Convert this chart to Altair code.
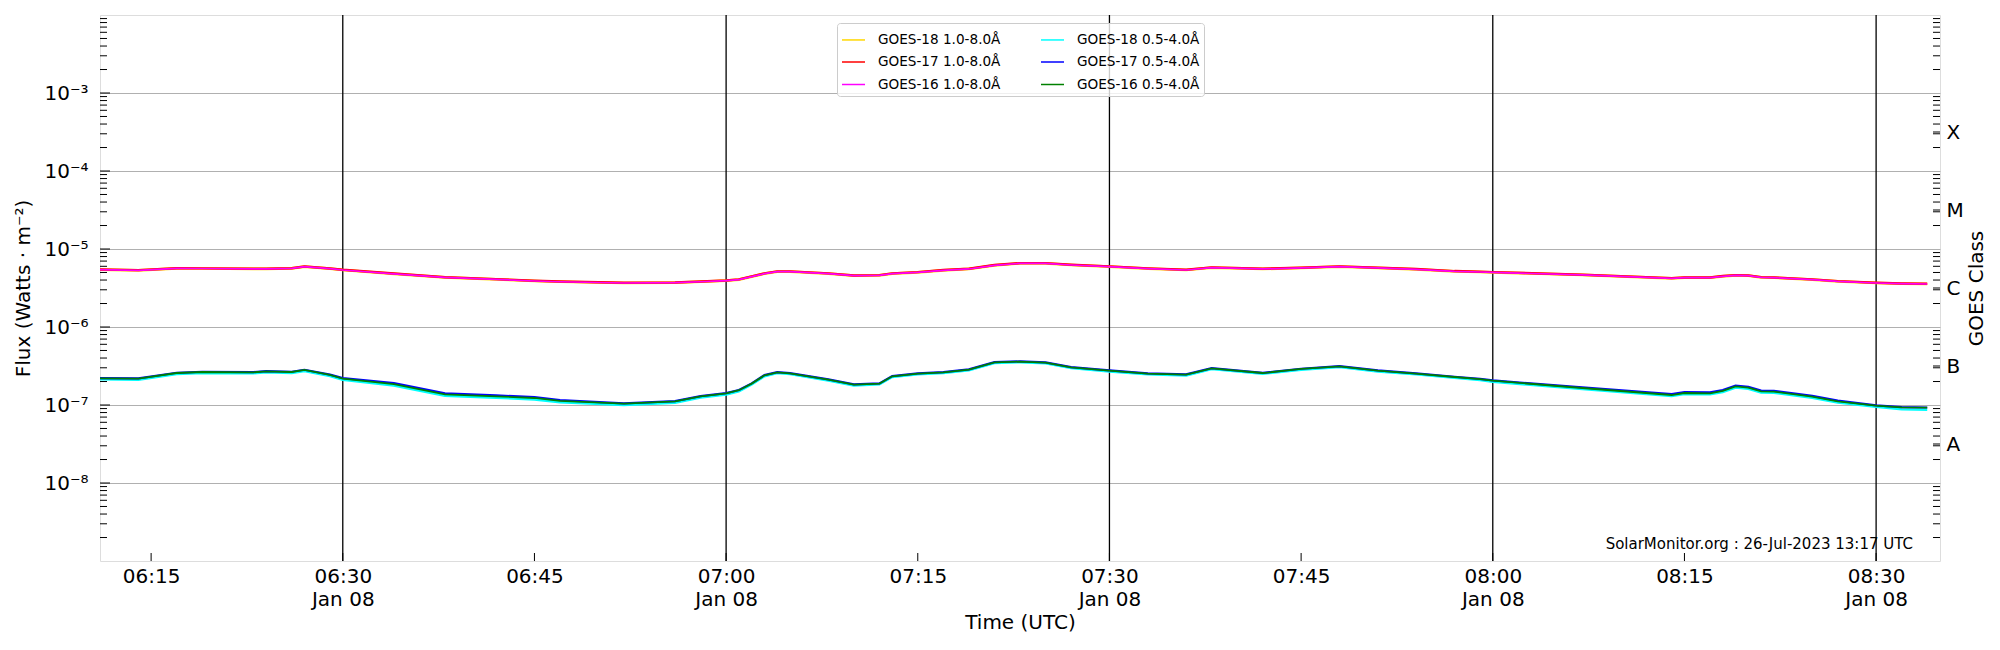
import altair as alt
import pandas as pd

# ---------------- data (minutes after 06:00 UTC, 8 Jan) ----------------
MINUTES = [11, 14, 17, 19, 23, 24, 26, 27, 29, 30, 34, 38, 42, 45, 47, 52, 56, 58, 60, 61,
           62, 63, 64, 65, 68, 70, 72, 73, 75, 77, 79, 81, 83, 85, 87, 90, 93, 96, 98, 102,
           105, 108, 111, 114, 117, 119, 120, 127, 134, 135, 137, 138, 139, 140, 141, 142,
           145, 147, 150, 152, 154]

# log10 flux, 1.0-8.0 A channel (GOES-16/17/18 coincide)
LONG_16 = [-5.265, -5.274, -5.248, -5.250, -5.256, -5.255, -5.248, -5.226, -5.252, -5.269,
           -5.318, -5.365, -5.389, -5.410, -5.420, -5.436, -5.432, -5.420, -5.406, -5.393,
           -5.355, -5.316, -5.290, -5.290, -5.316, -5.342, -5.338, -5.316, -5.299, -5.273,
           -5.256, -5.209, -5.184, -5.184, -5.205, -5.226, -5.252, -5.269, -5.239, -5.256,
           -5.243, -5.226, -5.243, -5.260, -5.286, -5.295, -5.299, -5.333, -5.376, -5.368,
           -5.368, -5.350, -5.338, -5.342, -5.363, -5.368, -5.393, -5.415, -5.436, -5.445,
           -5.449]
LONG_17 = [-5.262, -5.271, -5.246, -5.248, -5.254, -5.253, -5.246, -5.224, -5.250, -5.266,
           -5.315, -5.362, -5.386, -5.407, -5.417, -5.433, -5.429, -5.417, -5.403, -5.390,
           -5.352, -5.313, -5.287, -5.287, -5.313, -5.339, -5.335, -5.313, -5.296, -5.270,
           -5.253, -5.206, -5.181, -5.181, -5.202, -5.223, -5.249, -5.266, -5.236, -5.253,
           -5.240, -5.223, -5.240, -5.257, -5.283, -5.292, -5.296, -5.330, -5.373, -5.365,
           -5.365, -5.347, -5.335, -5.339, -5.360, -5.365, -5.390, -5.412, -5.433, -5.442,
           -5.446]
LONG_18 = [-5.265, -5.274, -5.248, -5.250, -5.256, -5.255, -5.248, -5.226, -5.252, -5.269,
           -5.318, -5.365, -5.389, -5.410, -5.420, -5.436, -5.432, -5.420, -5.406, -5.393,
           -5.355, -5.316, -5.290, -5.290, -5.316, -5.342, -5.338, -5.316, -5.299, -5.273,
           -5.256, -5.209, -5.184, -5.184, -5.205, -5.226, -5.252, -5.269, -5.239, -5.256,
           -5.243, -5.226, -5.243, -5.260, -5.286, -5.295, -5.299, -5.333, -5.376, -5.368,
           -5.368, -5.350, -5.338, -5.342, -5.363, -5.368, -5.393, -5.415, -5.436, -5.445,
           -5.449]

# log10 flux, 0.5-4.0 A channel
SHORT_16 = [-6.658, -6.662, -6.590, -6.577, -6.581, -6.568, -6.577, -6.551, -6.615, -6.662,
            -6.731, -6.863, -6.889, -6.910, -6.947, -6.983, -6.953, -6.889, -6.850, -6.810,
            -6.726, -6.620, -6.581, -6.594, -6.675, -6.739, -6.726, -6.632, -6.598, -6.581,
            -6.547, -6.453, -6.444, -6.457, -6.517, -6.560, -6.598, -6.611, -6.530, -6.590,
            -6.538, -6.504, -6.560, -6.598, -6.641, -6.667, -6.688, -6.782, -6.872, -6.846,
            -6.850, -6.820, -6.761, -6.778, -6.825, -6.829, -6.893, -6.953, -7.009, -7.030,
            -7.034]
SHORT_17 = [-6.655, -6.659, -6.587, -6.574, -6.578, -6.565, -6.574, -6.548, -6.610, -6.655,
            -6.718, -6.850, -6.877, -6.898, -6.937, -6.978, -6.950, -6.886, -6.847, -6.807,
            -6.723, -6.617, -6.578, -6.591, -6.672, -6.736, -6.723, -6.629, -6.595, -6.578,
            -6.544, -6.450, -6.441, -6.454, -6.514, -6.557, -6.595, -6.608, -6.527, -6.587,
            -6.535, -6.501, -6.557, -6.595, -6.638, -6.664, -6.684, -6.775, -6.860, -6.835,
            -6.838, -6.809, -6.750, -6.767, -6.814, -6.818, -6.882, -6.943, -7.004, -7.028,
            -7.032]
SHORT_18 = [-6.672, -6.676, -6.604, -6.590, -6.594, -6.582, -6.590, -6.565, -6.628, -6.676,
            -6.750, -6.882, -6.908, -6.929, -6.966, -7.002, -6.972, -6.906, -6.865, -6.824,
            -6.738, -6.632, -6.592, -6.604, -6.686, -6.750, -6.736, -6.642, -6.608, -6.590,
            -6.556, -6.462, -6.452, -6.466, -6.526, -6.570, -6.608, -6.622, -6.540, -6.600,
            -6.548, -6.514, -6.570, -6.608, -6.652, -6.680, -6.702, -6.797, -6.886, -6.860,
            -6.864, -6.834, -6.776, -6.792, -6.840, -6.844, -6.908, -6.968, -7.024, -7.056,
            -7.060]

# legend order (filled column by column: 1.0-8.0 A column, then 0.5-4.0 A column)
SERIES = ["GOES-18 1.0-8.0Å", "GOES-17 1.0-8.0Å", "GOES-16 1.0-8.0Å",
          "GOES-18 0.5-4.0Å", "GOES-17 0.5-4.0Å", "GOES-16 0.5-4.0Å"]
COLORS = ["gold", "red", "magenta", "cyan", "blue", "green"]
VALUES = {
    "GOES-18 1.0-8.0Å": LONG_18, "GOES-18 0.5-4.0Å": SHORT_18,
    "GOES-17 1.0-8.0Å": LONG_17, "GOES-17 0.5-4.0Å": SHORT_17,
    "GOES-16 1.0-8.0Å": LONG_16, "GOES-16 0.5-4.0Å": SHORT_16,
}
# drawing order (bottom to top) and stroke widths so overlapped lines show their edges
DRAW_ORDER = ["GOES-18 1.0-8.0Å", "GOES-17 1.0-8.0Å", "GOES-16 1.0-8.0Å",
              "GOES-18 0.5-4.0Å", "GOES-17 0.5-4.0Å", "GOES-16 0.5-4.0Å"]
STROKE_W = [2.7, 2.4, 1.7, 2.4, 2.2, 1.8]

TICK_MINUTES = [15, 30, 45, 60, 75, 90, 105, 120, 135, 150]
HALF_HOUR_MINUTES = [30, 60, 90, 120, 150]
Y_LABEL_VALUES = [1e-8, 1e-7, 1e-6, 1e-5, 1e-4, 1e-3]
Y_MAJOR = [1e-8, 1e-7, 1e-6, 1e-5, 1e-4, 1e-3]
Y_MINOR = [d * 10.0 ** k for k in range(-9, -2) for d in range(2, 10)]
CLASS_POS = [10 ** -7.5, 10 ** -6.5, 10 ** -5.5, 10 ** -4.5, 10 ** -3.5]
WATERMARK = "SolarMonitor.org : 26-Jul-2023 13:17 UTC"

W, H = 1840, 546


def iso(m):
    return f"2023-01-08T{6 + m // 60:02d}:{m % 60:02d}:00Z"


rows = []
for s in SERIES:
    for m, v in zip(MINUTES, VALUES[s]):
        rows.append({"t": iso(m), "flux": 10 ** v, "series": s})
df = pd.DataFrame(rows)

font = "DejaVu Sans"
x_scale = alt.Scale(type="utc", domain=[
    alt.DateTime(year=2023, month=1, date=8, hours=6, minutes=11, utc=True),
    alt.DateTime(year=2023, month=1, date=8, hours=8, minutes=35, utc=True)])
y_scale = alt.Scale(type="log", domain=[1e-9, 1e-2])

color_scale = alt.Scale(domain=SERIES, range=COLORS)
legend = alt.Legend(orient="none", legendX=737, legendY=8, columns=2, title=None,
                    symbolType="stroke", symbolSize=529, symbolStrokeWidth=1.5,
                    labelFontSize=13.6, labelFont=font, labelColor="black",
                    labelOffset=12, rowPadding=2.5, columnPadding=37, padding=4,
                    fillColor="rgba(255,255,255,0.8)", strokeColor="#cccccc",
                    cornerRadius=3, labelLimit=300)

x_axis = alt.Axis(
    values=[alt.DateTime(year=2023, month=1, date=8, hours=6 + m // 60, minutes=m % 60, utc=True)
            for m in TICK_MINUTES],
    labelExpr="utcminutes(datum.value) % 30 == 0 ? [utcFormat(datum.value, '%H:%M'), utcFormat(datum.value, '%b %d')] : utcFormat(datum.value, '%H:%M')",
    labelFontSize=20, labelFont=font, labelColor="black", labelPadding=5, labelLineHeight=23,
    ticks=False, tickSize=0, domain=False, grid=False,
    title="Time (UTC)", titleFontSize=20, titleFont=font, titleFontWeight="normal",
    titleColor="black", titlePadding=3, labelFlush=False, labelOverlap=False)

y_axis = alt.Axis(
    values=Y_LABEL_VALUES,
    labelExpr="'10⁻' + ['⁰','¹','²','³','⁴','⁵','⁶','⁷','⁸','⁹'][round(-log(datum.value)/LN10)]",
    labelFontSize=20, labelFont=font, labelColor="black", labelPadding=12,
    ticks=False, tickSize=0, domain=False,
    grid=True, gridColor="#b0b0b0", gridWidth=1, gridOpacity=1,
    title="Flux (Watts · m⁻²)", titleFontSize=20, titleFont=font, titleFontWeight="normal",
    titleColor="black", titlePadding=10, labelOverlap=False)

layers = []

# vertical half-hour lines (this layer carries the time axis)
half_df = pd.DataFrame({"t": [iso(m) for m in HALF_HOUR_MINUTES]})
layers.append(alt.Chart(half_df).mark_rule(color="black", strokeWidth=1.3).encode(
    x=alt.X("t:T", scale=x_scale, axis=x_axis)))

for i, (s, sw) in enumerate(zip(DRAW_ORDER, STROKE_W)):
    enc = dict(
        x=alt.X("t:T", scale=x_scale, axis=None),
        y=alt.Y("flux:Q", scale=y_scale, axis=y_axis if i == 0 else None),
        color=alt.Color("series:N", scale=color_scale, legend=legend),
    )
    layers.append(alt.Chart(df).transform_filter(alt.datum.series == s)
                  .mark_line(strokeWidth=sw, clip=True).encode(**enc))

# inward ticks (left, right, bottom)
minor_df = pd.DataFrame({"yv": Y_MINOR})
major_df = pd.DataFrame({"yv": Y_MAJOR})
class_df = pd.DataFrame({"yv": CLASS_POS})
bottom_df = pd.DataFrame({"t": [iso(m) for m in TICK_MINUTES]})

layers.append(alt.Chart(minor_df).mark_rule(color="black", strokeWidth=1).encode(
    y=alt.Y("yv:Q", scale=y_scale, axis=None), x=alt.value(0), x2=alt.value(7)))
layers.append(alt.Chart(major_df).mark_rule(color="black", strokeWidth=1).encode(
    y=alt.Y("yv:Q", scale=y_scale, axis=None), x=alt.value(0), x2=alt.value(10)))
layers.append(alt.Chart(minor_df).mark_rule(color="black", strokeWidth=1).encode(
    y=alt.Y("yv:Q", scale=y_scale, axis=None), x=alt.value(W), x2=alt.value(W - 7)))
layers.append(alt.Chart(class_df).mark_rule(color="black", strokeWidth=1).encode(
    y=alt.Y("yv:Q", scale=y_scale, axis=alt.Axis(
        orient="right", values=CLASS_POS,
        labelExpr="['A','B','C','M','X'][round(log(datum.value)/LN10 + 7.5)]",
        labelFontSize=20, labelFont=font, labelColor="black", labelPadding=6,
        ticks=False, tickSize=0, domain=False, grid=False,
        title="GOES Class", titleFontSize=20, titleFont=font, titleFontWeight="normal",
        titleColor="black", titleAngle=270, titleBaseline="top", titlePadding=3,
        labelOverlap=False)),
    x=alt.value(W), x2=alt.value(W - 7)))
layers.append(alt.Chart(bottom_df).mark_rule(color="black", strokeWidth=1).encode(
    x=alt.X("t:T", scale=x_scale, axis=None), y=alt.value(H), y2=alt.value(H - 8)))

wm_df = pd.DataFrame({"label": [WATERMARK]})
layers.append(alt.Chart(wm_df).mark_text(align="right", baseline="alphabetic", fontSize=15,
                                         font=font, color="black").encode(
    text="label:N", x=alt.value(1813), y=alt.value(534)))

chart = alt.layer(*layers).resolve_scale(y="shared", x="shared", color="shared").resolve_axis(
    x="independent", y="independent").properties(
    width=W, height=H,
    autosize=alt.AutoSizeParams(type="none"),
    padding={"left": 92, "top": 7, "right": 52, "bottom": 80},
).configure_view(stroke="black", strokeWidth=1.3).configure(font=font)

chart.save("out.html", embed_options={"renderer": "svg", "actions": False})
